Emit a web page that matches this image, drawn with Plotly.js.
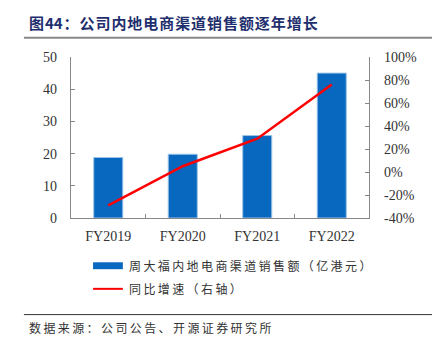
<!DOCTYPE html>
<html><head><meta charset="utf-8">
<script src="https://cdn.plot.ly/plotly-3.0.1.min.js"></script>
<style>html,body{margin:0;padding:0;background:#fff;}#chart{width:432px;height:353px;}</style>
</head><body><div id="chart"></div>
<script>
const categories = ["FY2019", "FY2020", "FY2021", "FY2022"];
const salesValues = [18.8, 19.8, 25.6, 45.0];
const growthValues = [-29, 5, 29, 76];
const barName = "周大福内地电商渠道销售额（亿港元）";
const lineName = "同比增速（右轴）";
const titleText = "图44：公司内地电商渠道销售额逐年增长";
const sourceText = "数据来源：公司公告、开源证券研究所";
const leftTicks = [0, 10, 20, 30, 40, 50];
const rightTicks = [-40, -20, 0, 20, 40, 60, 80, 100];
const rightTickLabels = rightTicks.map(v => v + "%");

const serif = "Liberation Serif, Times New Roman, serif";
const cjk = "Noto Sans CJK SC, sans-serif";
// spread CJK characters a little, as in the original typesetting (digits kept together)
const spaced = (s, sp) => s.replace(/([^0-9])(?=.)|([0-9])(?=[^0-9])/g, "$1$2" + sp);

const traces = [
  {type: "bar", x: categories, y: salesValues, name: barName,
   marker: {color: "#0868C0", line: {color: "#9cc3e8", width: 1}}, showlegend: false},
  {type: "scatter", mode: "lines", x: categories, y: growthValues, yaxis: "y2", name: lineName,
   line: {color: "#ff0000", width: 2.5}, showlegend: false}
];

const tickFont = {family: serif, size: 14, color: "#333"};

const layout = {
  width: 432, height: 353,
  margin: {l: 71, r: 63, t: 56.5, b: 135},
  paper_bgcolor: "#fff", plot_bgcolor: "#fff",
  bargap: 0.61,
  showlegend: false,
  xaxis: {
    showline: true, linecolor: "#888", linewidth: 1.2,
    ticks: "inside", tickson: "boundaries", ticklen: 4, tickcolor: "#888",
    tickfont: tickFont, ticklabelstandoff: 5,
    showgrid: false, zeroline: false
  },
  yaxis: {
    range: [0, 50], tickvals: leftTicks, ticktext: leftTicks.map(String),
    showline: true, linecolor: "#888", linewidth: 1.2,
    ticks: "inside", ticklen: 4, tickcolor: "#888",
    tickfont: tickFont, ticklabelstandoff: 10,
    showgrid: false, zeroline: false
  },
  yaxis2: {
    overlaying: "y", side: "right", range: [-40, 100],
    tickvals: rightTicks, ticktext: rightTickLabels,
    showline: true, linecolor: "#888", linewidth: 1.2,
    ticks: "inside", ticklen: 4, tickcolor: "#888",
    tickfont: tickFont, ticklabelstandoff: 11,
    showgrid: false, zeroline: false
  },
  shapes: [
    {type: "line", xref: "paper", yref: "paper", x0: -0.158, x1: 1.215, y0: 1.12, y1: 1.12,
     line: {color: "#888", width: 2}},
    {type: "line", xref: "paper", yref: "paper", x0: -0.158, x1: 1.215, y0: -0.6, y1: -0.6,
     line: {color: "#333", width: 1}},
    {type: "rect", xref: "paper", yref: "paper", x0: 0.074, x1: 0.174, y0: -0.275, y1: -0.318,
     fillcolor: "#0868C0", line: {width: 0}},
    {type: "line", xref: "paper", yref: "paper", x0: 0.074, x1: 0.174, y0: -0.44, y1: -0.44,
     line: {color: "#ff0000", width: 2}}
  ],
  annotations: [
    {xref: "paper", yref: "paper", x: -0.148, y: 1.215, xanchor: "left", yanchor: "middle",
     text: "<b>" + spaced(titleText, "\u200A") + "</b>", showarrow: false,
     font: {family: cjk, size: 15, color: "#1f2f6e"}},
    {xref: "paper", yref: "paper", x: 0.187, y: -0.297, xanchor: "left", yanchor: "middle",
     text: spaced(barName, "\u2009"), showarrow: false, font: {family: cjk, size: 12, color: "#333"}},
    {xref: "paper", yref: "paper", x: 0.187, y: -0.44, xanchor: "left", yanchor: "middle",
     text: spaced(lineName, "\u2009"), showarrow: false, font: {family: cjk, size: 12, color: "#333"}},
    {xref: "paper", yref: "paper", x: -0.148, y: -0.68, xanchor: "left", yanchor: "middle",
     text: spaced(sourceText, "\u2009"), showarrow: false,
     font: {family: cjk, size: 12, color: "#333"}}
  ]
};

Plotly.newPlot("chart", traces, layout, {displayModeBar: false, staticPlot: true});
</script></body></html>
